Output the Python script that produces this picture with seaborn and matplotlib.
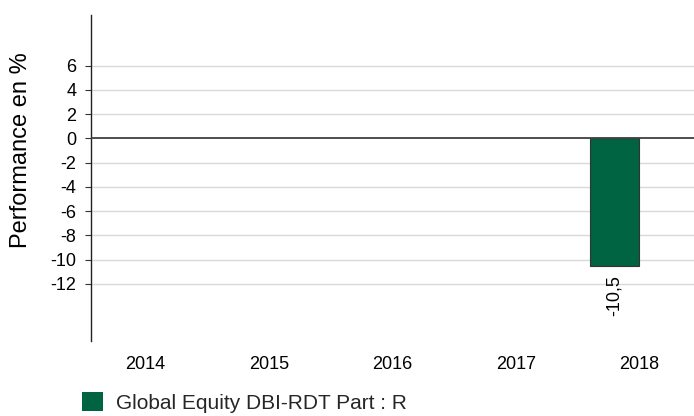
import numpy as np
import pandas as pd
import matplotlib
matplotlib.use("Agg")
import matplotlib.pyplot as plt
import seaborn as sns
from matplotlib.container import BarContainer

# Données
annees = ["2014", "2015", "2016", "2017", "2018"]
perf_fonds = [np.nan, np.nan, np.nan, np.nan, -10.5]
serie_fonds = "Global Equity DBI-RDT Part : R"
serie_vide = "_vide"  # deuxième série sans données (décale la barre)
yticks = [6, 4, 2, 0, -2, -4, -6, -8, -10, -12]

VERT = "#006341"

sns.set_theme(style="white")
plt.rcParams["font.family"] = ["Liberation Sans", "DejaVu Sans"]

df = pd.DataFrame({
    "annee": annees * 2,
    "perf": perf_fonds + [np.nan] * len(annees),
    "serie": [serie_fonds] * len(annees) + [serie_vide] * len(annees),
})

fig = plt.figure(figsize=(6.94, 4.16), dpi=100)
ax = fig.add_axes([91 / 694, 75 / 416, 603 / 694, 326 / 416])

# Grille horizontale
for t in yticks:
    if t == 0:
        continue
    ax.axhline(t, color="#d9d9d9", lw=1, zorder=0)

sns.barplot(
    data=df, x="annee", y="perf", hue="serie",
    order=annees, hue_order=[serie_fonds, serie_vide],
    palette=[VERT, VERT], saturation=1, width=0.8, dodge=True,
    edgecolor="#333333", linewidth=0.8, ax=ax, legend=False,
    errorbar=None, zorder=2,
)

ax.axhline(0, color="#404040", lw=1.3, zorder=3)

# Étiquette de valeur (seulement les barres existantes)
barres = [b for b in ax.containers[0] if b is not None]
vals = [v for v in perf_fonds if not np.isnan(v)]
cont = BarContainer(barres, datavalues=vals, orientation="vertical")
ax.bar_label(cont, labels=[f"{v:.1f}".replace(".", ",") for v in vals],
             rotation=90, padding=6.5, fontsize=13, color="black")

ax.set_ylim(-16.71, 10.17)
ax.set_xlim(-0.44, 4.445)
ax.set_yticks(yticks)
ax.set_yticklabels([str(t) for t in yticks])
ax.tick_params(axis="y", length=4, width=0.8, color="#333333", pad=6.5, labelsize=13,
               left=True, labelcolor="black")
ax.tick_params(axis="x", length=0, pad=11, labelsize=13, labelcolor="black")

for s in ["top", "right", "bottom"]:
    ax.spines[s].set_visible(False)
ax.spines["left"].set_color("#222222")
ax.spines["left"].set_linewidth(1)

ax.set_xlabel("")
ax.set_ylabel("Performance en %", fontsize=17, color="black")
ax.yaxis.set_label_coords(-0.098, 0.586)

# Légende en bas
handle = plt.Rectangle((0, 0), 1, 1, facecolor=VERT, edgecolor="none")
fig.legend([handle], [serie_fonds], loc="lower left",
           bbox_to_anchor=(74 / 694, -0.012), frameon=False, fontsize=15,
           handlelength=1.0, handleheight=1.0, handletextpad=0.6, borderaxespad=0)

fig.savefig("out.png", dpi=100)
